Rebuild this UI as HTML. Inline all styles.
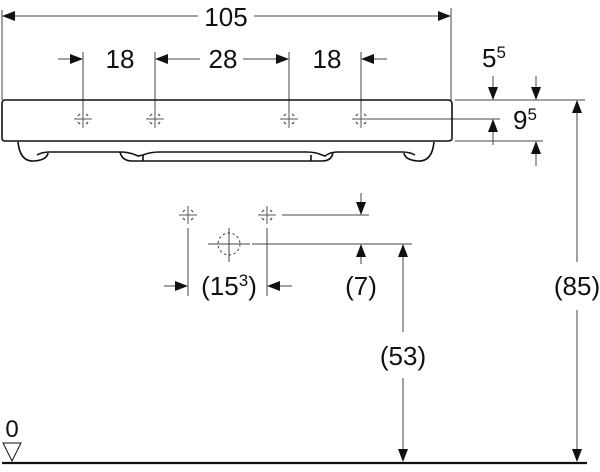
<!DOCTYPE html>
<html><head><meta charset="utf-8"><style>
html,body{margin:0;padding:0;background:#fff;}
svg{display:block;}
text{font-family:"Liberation Sans",Arial,sans-serif;fill:#111;}
</style></head><body>
<svg width="600" height="472" viewBox="0 0 600 472" xmlns="http://www.w3.org/2000/svg">
<defs>
<g id="ch" stroke="#555" stroke-width="1" fill="none">
<line x1="-9" y1="0" x2="9" y2="0"/><line x1="0" y1="-9" x2="0" y2="9"/>
<path d="M-5,-3 A6,6 0 0 1 -3,-5 M3,-5 A6,6 0 0 1 5,-3 M5,3 A6,6 0 0 1 3,5 M-3,5 A6,6 0 0 1 -5,3" stroke-width="1.3"/>
</g>
</defs>
<g stroke="#444" stroke-width="1" fill="none">
<line x1="2" y1="10" x2="2" y2="100"/>
<line x1="451" y1="8" x2="451" y2="100"/>
<line x1="14" y1="16" x2="198" y2="16"/>
<line x1="254" y1="16" x2="440" y2="16"/>
<line x1="58" y1="59" x2="74" y2="59"/>
<line x1="166" y1="59" x2="200" y2="59"/>
<line x1="243" y1="59" x2="278" y2="59"/>
<line x1="372" y1="59" x2="387" y2="59"/>
<line x1="83" y1="52" x2="83" y2="127"/>
<line x1="155" y1="52" x2="155" y2="127"/>
<line x1="289" y1="52" x2="289" y2="127"/>
<line x1="361" y1="52" x2="361" y2="127"/>
<line x1="455" y1="100" x2="585" y2="100"/>
<line x1="370" y1="119" x2="500" y2="119"/>
<line x1="455" y1="141" x2="543" y2="141"/>
<line x1="493" y1="76" x2="493" y2="90"/>
<line x1="536" y1="76" x2="536" y2="90"/>
<line x1="493" y1="130" x2="493" y2="145"/>
<line x1="536" y1="152" x2="536" y2="166"/>
<line x1="577" y1="112" x2="577" y2="262"/>
<line x1="577" y1="310" x2="577" y2="450"/>
<line x1="282" y1="215" x2="369" y2="215"/>
<line x1="361" y1="193" x2="361" y2="204"/>
<line x1="252" y1="244" x2="412" y2="244"/>
<line x1="361" y1="255" x2="361" y2="264"/>
<line x1="403" y1="255" x2="403" y2="332"/>
<line x1="403" y1="378" x2="403" y2="450"/>
<line x1="188" y1="228" x2="188" y2="296"/>
<line x1="267" y1="228" x2="267" y2="296"/>
<line x1="164" y1="286" x2="178" y2="286"/>
<line x1="277" y1="286" x2="292" y2="286"/>
<line x1="208" y1="244" x2="250" y2="244"/>
<line x1="229" y1="228" x2="229" y2="262"/>
<circle cx="229" cy="244" r="11" stroke-dasharray="2.5,2.5"/>
</g>
<g fill="#111">
<polygon points="2,16 15,11 15,21"/>
<polygon points="451,16 438,11 438,21"/>
<polygon points="83,59 70,54 70,64"/>
<polygon points="155,59 168,54 168,64"/>
<polygon points="289,59 276,54 276,64"/>
<polygon points="361,59 374,54 374,64"/>
<polygon points="493,100 488,87 498,87"/>
<polygon points="536,100 531,87 541,87"/>
<polygon points="493,119 488,132 498,132"/>
<polygon points="536,141 531,154 541,154"/>
<polygon points="577,100 572,113 582,113"/>
<polygon points="577,462 572,449 582,449"/>
<polygon points="361,215 356,202 366,202"/>
<polygon points="361,244 356,257 366,257"/>
<polygon points="403,244 398,257 408,257"/>
<polygon points="403,462 398,449 408,449"/>
<polygon points="188,286 175,281 175,291"/>
<polygon points="267,286 280,281 280,291"/>
</g>
<g stroke="#111" stroke-width="1.6" fill="none">
<path d="M5,100 H448 Q452,100 452,104 V138 Q452,141 448,141 H5 Q2,141 2,138 V104 Q2,100 5,100 Z"/>
<path d="M18,142 Q20,162 34,161 Q47,160 48,153"/>
<path d="M37,155 Q42,152 50,152 H120 Q130,152 138,156 L143,155 Q150,152 160,152 H306 Q316,152 322,155 L325,156 Q330,152 338,152 H402 Q410,152 415,155"/>
<path d="M120,152 Q122,161 132,161 H322 Q332,161 333,152"/>
<line x1="143" y1="155" x2="143" y2="161"/>
<line x1="311" y1="155" x2="311" y2="161"/>
<path d="M434,142 Q432,162 418,161 Q405,160 404,153"/>
</g>
<g transform="translate(83,119)"><use href="#ch"/></g>
<g transform="translate(155,119)"><use href="#ch"/></g>
<g transform="translate(289,119)"><use href="#ch"/></g>
<g transform="translate(361,119)"><use href="#ch"/></g>
<g transform="translate(188,215)"><use href="#ch"/></g>
<g transform="translate(267,215)"><use href="#ch"/></g>
<line x1="2" y1="463" x2="587" y2="463" stroke="#111" stroke-width="2.2"/>
<polygon points="3,443 21,443 12,461" fill="#fff" stroke="#111" stroke-width="1"/>
<g font-size="26" text-anchor="middle">
<text x="226" y="26">105</text>
<text x="120" y="68">18</text>
<text x="223" y="68">28</text>
<text x="327" y="68">18</text>
<text x="494" y="67">5<tspan font-size="17" dy="-9">5</tspan></text>
<text x="525" y="129">9<tspan font-size="17" dy="-9">5</tspan></text>
<text x="577" y="295">(85)</text>
<text x="229" y="295">(15<tspan font-size="17" dy="-9">3</tspan><tspan dy="9">)</tspan></text>
<text x="361" y="295">(7)</text>
<text x="403" y="365">(53)</text>
<text x="12" y="437" font-size="24">0</text>
</g>
</svg>
</body></html>
